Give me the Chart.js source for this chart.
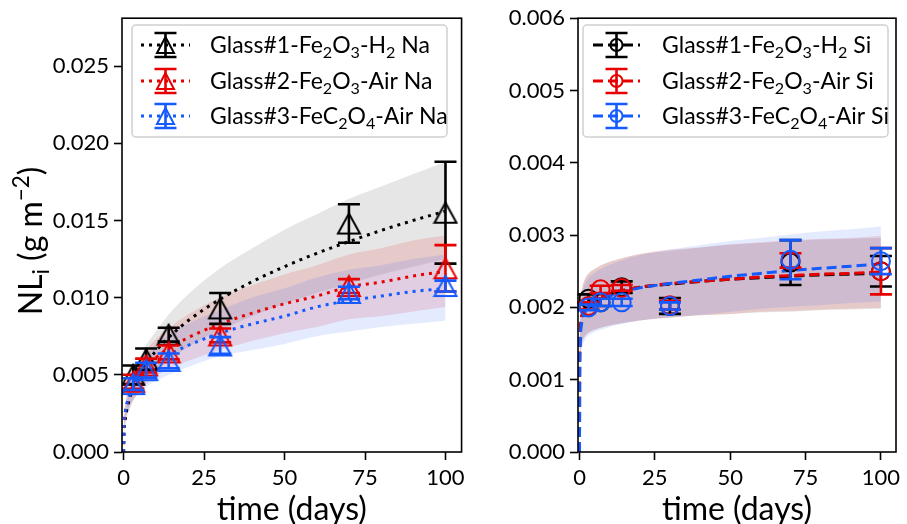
<!DOCTYPE html>
<html>
<head>
<meta charset="utf-8">
<script src="https://cdn.jsdelivr.net/npm/chart.js@4.4.0/dist/chart.umd.min.js"></script>
<style>
  html, body { margin: 0; padding: 0; background: #fff; }
  #wrap { position: relative; width: 907px; height: 524px; }
  canvas { position: absolute; top: 0; }
</style>
</head>
<body>
<div id="wrap">
  <canvas id="na" width="470" height="524" style="left:0"></canvas>
  <canvas id="si" width="437" height="524" style="left:470px"></canvas>
</div>
<script>
const FONT = "Lato, 'DejaVu Sans', sans-serif"
const BLACK = '#000000'
const RED = 'rgb(232,0,0)'
const BLUE = 'rgb(20,90,255)'

// measured points
const days = [3, 7, 14, 30, 70, 100]
const naGlass1 = [0.0050, 0.0060, 0.0076, 0.0093, 0.0148, 0.0155]
const naGlass1Err = [0.0006, 0.0007, 0.00045, 0.0010, 0.00125, 0.0033]
const naGlass2 = [0.00455, 0.0056, 0.00645, 0.00755, 0.01075, 0.0119]
const naGlass2Err = [0.00045, 0.00045, 0.00045, 0.00045, 0.00045, 0.0015]
const naGlass3 = [0.0044, 0.0053, 0.0059, 0.0069, 0.0103, 0.01075]
const naGlass3Err = [0.00038, 0.00048, 0.00048, 0.00054, 0.0004, 0.00035]

const siGlass1 = [0.00212, 0.00207, 0.00228, 0.00202, 0.00262, 0.00250]
const siGlass1Err = [0.00006, 0.00005, 0.00008, 0.00011, 0.00031, 0.00021]
const siGlass2 = [0.00202, 0.00225, 0.00227, 0.00203, 0.00265, 0.00250]
const siGlass2Err = [0.00005, 0.00005, 0.00004, 0.00006, 0.00010, 0.00032]
const siGlass3 = [0.00200, 0.00207, 0.00207, 0.00202, 0.00266, 0.00264]
const siGlass3Err = [0.00004, 0.00005, 0.00005, 0.00005, 0.00027, 0.00018]

// fitted curves and their bands
const fitDaysNa = [0, 0.1, 0.3, 0.6, 1, 2, 3, 5, 7, 10, 14, 20, 30, 40, 50, 60, 70, 80, 90, 100]
const naFit1 = [0, 0.00115, 0.00174, 0.00226, 0.00274, 0.00356, 0.00415, 0.00503, 0.00571, 0.00654, 0.00742, 0.0085, 0.0099, 0.01104, 0.01201, 0.01287, 0.01363, 0.01435, 0.015, 0.0156]
const naFit1Hi = [0, 0.0014, 0.0021, 0.0027, 0.0033, 0.0043, 0.0050, 0.0060, 0.0069, 0.0078, 0.0089, 0.0102, 0.0119, 0.0132, 0.0144, 0.0154, 0.0164, 0.0172, 0.0180, 0.0188]
const naFit1Lo = [0, 0.0009, 0.0014, 0.0018, 0.0022, 0.0028, 0.0033, 0.0040, 0.0046, 0.0052, 0.0059, 0.0068, 0.0079, 0.0088, 0.0096, 0.0103, 0.0109, 0.0115, 0.0120, 0.0125]
const naFit2 = [0, 0.0016, 0.0022, 0.0027, 0.0031, 0.0038, 0.0043, 0.0050, 0.0055, 0.0061, 0.0067, 0.0074, 0.0083, 0.0090, 0.0096, 0.0101, 0.0107, 0.0110, 0.0114, 0.0117]
const naFit2Hi = [0, 0.0019, 0.0026, 0.0032, 0.0037, 0.0046, 0.0052, 0.0060, 0.0066, 0.0073, 0.0080, 0.0089, 0.0100, 0.0108, 0.0115, 0.0121, 0.0128, 0.0132, 0.0137, 0.0140]
const naFit2Lo = [0, 0.0013, 0.0018, 0.0022, 0.0025, 0.0030, 0.0034, 0.0040, 0.0044, 0.0049, 0.0054, 0.0059, 0.0066, 0.0072, 0.0077, 0.0081, 0.0086, 0.0088, 0.0091, 0.0094]
const naFit3 = [0, 0.0017, 0.0023, 0.0027, 0.0031, 0.0037, 0.0042, 0.0048, 0.0052, 0.0058, 0.0063, 0.0069, 0.0077, 0.0083, 0.0088, 0.0094, 0.0098, 0.0101, 0.0104, 0.0106]
const naFit3Hi = [0, 0.0020, 0.0028, 0.0032, 0.0037, 0.0044, 0.0050, 0.0058, 0.0062, 0.0070, 0.0076, 0.0083, 0.0092, 0.0100, 0.0106, 0.0113, 0.0118, 0.0121, 0.0125, 0.0128]
const naFit3Lo = [0, 0.0014, 0.0018, 0.0022, 0.0025, 0.0030, 0.0034, 0.0038, 0.0042, 0.0046, 0.0050, 0.0055, 0.0062, 0.0066, 0.0070, 0.0075, 0.0078, 0.0081, 0.0083, 0.0085]

const fitDaysSi = [0, 0.05, 0.15, 0.3, 0.6, 1, 2, 3, 5, 7, 10, 14, 20, 30, 40, 50, 60, 70, 80, 90, 100]
const siFit1 = [0, 0.0012, 0.0015, 0.0017, 0.00183, 0.00191, 0.00201, 0.00206, 0.00211, 0.00215, 0.00219, 0.00223, 0.00228, 0.00232, 0.00236, 0.00239, 0.00241, 0.00243, 0.00245, 0.00246, 0.00247]
const siFit1Hi = [0, 0.00144, 0.0018, 0.00204, 0.0022, 0.00229, 0.00241, 0.00247, 0.00253, 0.00258, 0.00263, 0.00268, 0.00274, 0.00278, 0.00283, 0.00287, 0.00289, 0.00292, 0.00294, 0.00295, 0.00296]
const siFit1Lo = [0, 0.00096, 0.0012, 0.00136, 0.00146, 0.00153, 0.00161, 0.00165, 0.00169, 0.00172, 0.00175, 0.00178, 0.00182, 0.00186, 0.00189, 0.00191, 0.00193, 0.00194, 0.00196, 0.00197, 0.00198]
const siFit2 = [0, 0.0012, 0.0015, 0.0017, 0.00183, 0.00191, 0.00201, 0.00206, 0.00211, 0.00215, 0.00219, 0.00223, 0.00228, 0.00233, 0.00236, 0.00239, 0.00242, 0.00244, 0.00246, 0.00247, 0.00249]
const siFit2Hi = [0, 0.00144, 0.0018, 0.00204, 0.0022, 0.00229, 0.00241, 0.00247, 0.00253, 0.00258, 0.00263, 0.00268, 0.00274, 0.0028, 0.00283, 0.00287, 0.0029, 0.00293, 0.00295, 0.00296, 0.00299]
const siFit2Lo = [0, 0.00096, 0.0012, 0.00136, 0.00146, 0.00153, 0.00161, 0.00165, 0.00169, 0.00172, 0.00175, 0.00178, 0.00182, 0.00186, 0.00189, 0.00191, 0.00194, 0.00195, 0.00197, 0.00198, 0.00199]
const siFit3 = [0, 0.0011, 0.0014, 0.0016, 0.00175, 0.00184, 0.00195, 0.00201, 0.00207, 0.00211, 0.00216, 0.00221, 0.00227, 0.00233, 0.00238, 0.00243, 0.00247, 0.00251, 0.00254, 0.00257, 0.0026]
const siFit3Hi = [0, 0.00132, 0.00168, 0.00192, 0.0021, 0.00221, 0.00234, 0.00241, 0.00248, 0.00253, 0.00259, 0.00265, 0.00272, 0.0028, 0.00286, 0.00292, 0.00296, 0.00301, 0.00305, 0.00308, 0.00312]
const siFit3Lo = [0, 0.00088, 0.00112, 0.00128, 0.0014, 0.00147, 0.00156, 0.00161, 0.00166, 0.00169, 0.00173, 0.00177, 0.00182, 0.00186, 0.0019, 0.00194, 0.00198, 0.00201, 0.00203, 0.00206, 0.00208]

const xTicks = [0, 25, 50, 75, 100]
const yTicksNa = [0, 0.005, 0.010, 0.015, 0.020, 0.025]
const yTicksSi = [0, 0.001, 0.002, 0.003, 0.004, 0.005, 0.006]

const labelsNa = ['Glass#1-Fe₂O₃-H₂ Na', 'Glass#2-Fe₂O₃-Air Na', 'Glass#3-FeC₂O₄-Air Na']
const labelsSi = ['Glass#1-Fe₂O₃-H₂ Si', 'Glass#2-Fe₂O₃-Air Si', 'Glass#3-FeC₂O₄-Air Si']
const yTitleNa = 'NLᵢ (g m⁻²)'
const xTitle = 'time (days)'

// ---- text with sub/superscripts ----
const SUB = {'₀':'0','₁':'1','₂':'2','₃':'3','₄':'4','ᵢ':'i'}
const SUP = {'⁻':'−','²':'2'}
function richParts(text) {
    const out = []
    for (const ch of text) {
        const k = SUB[ch] ? 1 : SUP[ch] ? -1 : 0
        const c = SUB[ch] || SUP[ch] || ch
        const last = out[out.length - 1]
        if (last && last.k === k) last.s += c
        else out.push({s: c, k})
    }
    return out
}
function drawRich(ctx, text, x, y, size, align) {
    const parts = richParts(text)
    const fontOf = k => (k ? size * 0.7 : size) + 'px ' + FONT
    let w = 0
    parts.forEach(p => { ctx.font = fontOf(p.k); p.w = ctx.measureText(p.s).width; w += p.w })
    let cx = align === 'center' ? x - w / 2 : x
    ctx.textAlign = 'left'
    ctx.textBaseline = 'alphabetic'
    ctx.fillStyle = '#000'
    parts.forEach(p => {
        ctx.font = fontOf(p.k)
        const dy = p.k === 1 ? size * 0.22 : p.k === -1 ? -size * 0.42 : 0
        ctx.fillText(p.s, cx, y + dy)
        cx += p.w
    })
}

// open triangle like matplotlib '^' (bbox centred on the point)
function triangleImg(color, w, h) {
    const c = document.createElement('canvas')
    c.width = w + 4; c.height = h + 4
    const g = c.getContext('2d')
    g.strokeStyle = color; g.lineWidth = 2
    g.beginPath()
    g.moveTo(c.width / 2, 2); g.lineTo(c.width - 2, h + 2); g.lineTo(2, h + 2); g.closePath()
    g.stroke()
    return c
}

const pts = (xs, ys) => xs.map((x, i) => ({x, y: ys[i]}))

function band(xs, hi, lo, color, order) {
    return [
        {data: pts(xs, hi), borderWidth: 0, pointRadius: 0, fill: '+1', backgroundColor: color, cubicInterpolationMode: 'monotone', order},
        {data: pts(xs, lo), borderWidth: 0, pointRadius: 0, fill: false, cubicInterpolationMode: 'monotone', order}
    ]
}
function fitLine(xs, ys, color, dash, order) {
    return {data: pts(xs, ys), borderColor: color, borderWidth: 3, borderDash: dash, borderCapStyle: 'butt',
        pointRadius: 0, fill: false, cubicInterpolationMode: 'monotone', order}
}
function markers(ys, err, color, style, order) {
    const ds = {data: pts(days, ys), showLine: false, pointBorderColor: color, pointBackgroundColor: 'rgba(0,0,0,0)',
        pointBorderWidth: 2, errors: err, errColor: color, order}
    if (style === 'triangle') { ds.pointStyle = triangleImg(color, 22, 20) }
    else { ds.pointStyle = 'circle'; ds.pointRadius = 9 }
    return ds
}

// error bars are drawn right before each marker dataset
const errorBars = {
    id: 'errorBars',
    beforeDatasetDraw(chart, args) {
        const ds = chart.data.datasets[args.index]
        if (!ds.errors) return
        const {ctx, scales: {x, y}} = chart
        ctx.save()
        ctx.strokeStyle = ds.errColor
        ctx.lineWidth = 2.6
        ds.data.forEach((p, i) => {
            const px = x.getPixelForValue(p.x)
            const top = y.getPixelForValue(p.y + ds.errors[i])
            const bot = y.getPixelForValue(p.y - ds.errors[i])
            ctx.beginPath()
            ctx.moveTo(px, top); ctx.lineTo(px, bot)
            ctx.moveTo(px - 11, top); ctx.lineTo(px + 11, top)
            ctx.moveTo(px - 11, bot); ctx.lineTo(px + 11, bot)
            ctx.stroke()
        })
        ctx.restore()
    }
}

const frame = {
    id: 'frame',
    afterDatasetsDraw(chart) {
        const {ctx, chartArea: a} = chart
        ctx.save()
        ctx.strokeStyle = '#000'
        ctx.lineWidth = 1.6
        ctx.strokeRect(a.left, a.top, a.right - a.left, a.bottom - a.top)
        ctx.restore()
    }
}

function legendPlugin(cfg) {
    return {
        id: 'richLegend',
        afterDraw(chart) {
            const ctx = chart.ctx
            const [bx, by, bw, bh] = cfg.box
            ctx.save()
            ctx.beginPath()
            ctx.roundRect(bx, by, bw, bh, 4)
            ctx.fillStyle = 'rgba(255,255,255,0.8)'
            ctx.fill()
            ctx.strokeStyle = '#d0d0d0'
            ctx.lineWidth = 1.5
            ctx.stroke()
            cfg.labels.forEach((label, i) => {
                const yy = cfg.rows[i]
                const color = cfg.colors[i]
                const cx = (cfg.line[0] + cfg.line[1]) / 2
                ctx.strokeStyle = color
                ctx.lineWidth = 3
                ctx.setLineDash(cfg.dash)
                ctx.beginPath(); ctx.moveTo(cfg.line[0], yy); ctx.lineTo(cfg.line[1], yy); ctx.stroke()
                ctx.setLineDash([])
                ctx.lineWidth = 2.6
                ctx.beginPath()
                ctx.moveTo(cx, yy - 12); ctx.lineTo(cx, yy + 12)
                ctx.moveTo(cx - 11, yy - 12); ctx.lineTo(cx + 11, yy - 12)
                ctx.moveTo(cx - 11, yy + 12); ctx.lineTo(cx + 11, yy + 12)
                ctx.stroke()
                ctx.lineWidth = 2
                if (cfg.marker === 'triangle') {
                    ctx.beginPath(); ctx.moveTo(cx, yy - 8); ctx.lineTo(cx + 8.5, yy + 8); ctx.lineTo(cx - 8.5, yy + 8); ctx.closePath(); ctx.stroke()
                } else {
                    ctx.beginPath(); ctx.arc(cx, yy, 6, 0, Math.PI * 2); ctx.stroke()
                }
                drawRich(ctx, label, cfg.textX, yy + 8, 23, 'left')
            })
            if (cfg.yTitle) {
                ctx.translate(cfg.yTitle.x, cfg.yTitle.y)
                ctx.rotate(-Math.PI / 2)
                drawRich(ctx, cfg.yTitle.text, 0, 12, 32, 'center')
            }
            ctx.restore()
        }
    }
}

function makeChart(id, datasets, yTicks, yMax, yWidth, padRight, legendCfg) {
    return new Chart(document.getElementById(id), {
        type: 'line',
        data: {datasets},
        options: {
            responsive: false,
            animation: false,
            devicePixelRatio: 1,
            events: [],
            layout: {padding: {left: 0, right: padRight, top: 16, bottom: 0}},
            plugins: {legend: {display: false}, tooltip: {enabled: false}},
            scales: {
                x: {
                    type: 'linear', min: -0.5, max: 105,
                    afterBuildTicks: a => { a.ticks = xTicks.map(v => ({value: v})) },
                    afterFit: s => { s.height = 72 },
                    ticks: {color: '#000', font: {family: FONT, size: 22}, padding: 5, maxRotation: 0},
                    grid: {drawOnChartArea: false, drawTicks: true, tickLength: 8, tickWidth: 1.6, tickColor: '#000'},
                    border: {display: false},
                    title: {display: true, text: xTitle, color: '#000', font: {family: FONT, size: 32}, padding: {top: 0, bottom: -5}}
                },
                y: {
                    type: 'linear', min: 0, max: yMax,
                    afterBuildTicks: a => { a.ticks = yTicks.map(v => ({value: v})) },
                    afterFit: s => { s.width = yWidth },
                    ticks: {color: '#000', font: {family: FONT, size: 22}, padding: 5, callback: v => v.toFixed(3)},
                    grid: {drawOnChartArea: false, drawTicks: true, tickLength: 8, tickWidth: 1.6, tickColor: '#000'},
                    border: {display: false}
                }
            }
        },
        plugins: [errorBars, frame, legendPlugin(legendCfg)]
    })
}

const dotted = [3, 5]
const dashed = [10, 5]

makeChart('na', [
    ...band(fitDaysNa, naFit1Hi, naFit1Lo, 'rgba(128,128,128,0.2)', 9),
    ...band(fitDaysNa, naFit2Hi, naFit2Lo, 'rgba(230,20,20,0.14)', 8),
    ...band(fitDaysNa, naFit3Hi, naFit3Lo, 'rgba(30,90,255,0.12)', 7),
    fitLine(fitDaysNa, naFit1, BLACK, dotted, 6),
    fitLine(fitDaysNa, naFit2, RED, dotted, 5),
    fitLine(fitDaysNa, naFit3, BLUE, dotted, 4),
    markers(naGlass1, naGlass1Err, BLACK, 'triangle', 3),
    markers(naGlass2, naGlass2Err, RED, 'triangle', 2),
    markers(naGlass3, naGlass3Err, BLUE, 'triangle', 1)
], yTicksNa, 0.0281, 122, 8, {
    box: [132, 25, 315, 112], rows: [45, 81, 116], line: [141, 190], textX: 210,
    dash: [3, 5], marker: 'triangle', labels: labelsNa, colors: [BLACK, RED, BLUE],
    yTitle: {x: 30, y: 241, text: yTitleNa}
})

makeChart('si', [
    ...band(fitDaysSi, siFit1Hi, siFit1Lo, 'rgba(128,128,128,0.2)', 9),
    ...band(fitDaysSi, siFit2Hi, siFit2Lo, 'rgba(230,20,20,0.14)', 8),
    ...band(fitDaysSi, siFit3Hi, siFit3Lo, 'rgba(30,90,255,0.12)', 7),
    fitLine(fitDaysSi, siFit1, BLACK, dashed, 6),
    fitLine(fitDaysSi, siFit2, RED, dashed, 5),
    fitLine(fitDaysSi, siFit3, BLUE, dashed, 4),
    markers(siGlass1, siGlass1Err, BLACK, 'circle', 3),
    markers(siGlass2, siGlass2Err, RED, 'circle', 2),
    markers(siGlass3, siGlass3Err, BLUE, 'circle', 1)
], yTicksSi, 0.006, 108, 3, {
    box: [113, 25, 305, 112], rows: [45, 81, 116], line: [123, 170], textX: 192,
    dash: [10, 5], marker: 'circle', labels: labelsSi, colors: [BLACK, RED, BLUE]
})
</script>
</body>
</html>
